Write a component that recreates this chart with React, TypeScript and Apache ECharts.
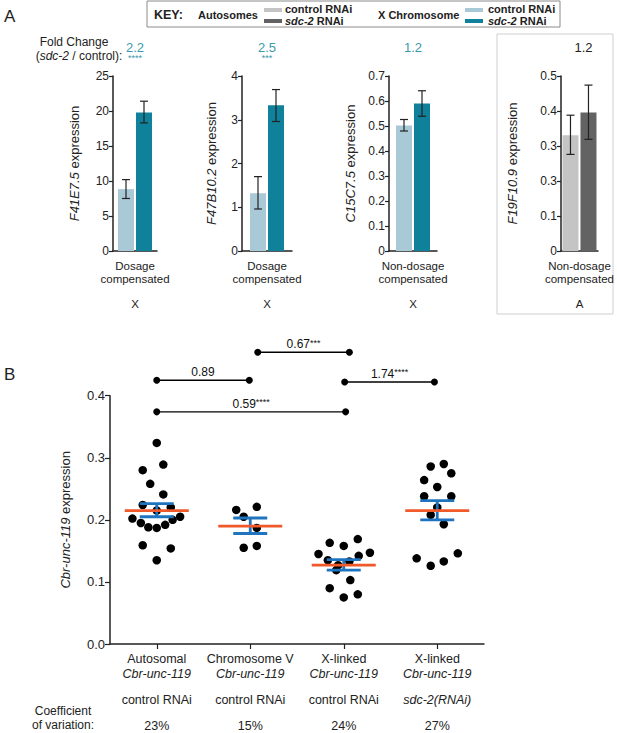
import React, { useEffect, useRef } from 'react';
import * as echarts from 'echarts';

// ---------- Panel A data ----------
const genes = ['F41E7.5', 'F47B10.2', 'C15C7.5', 'F19F10.9'];
const aCategories = [['Dosage', 'compensated'], ['Dosage', 'compensated'], ['Non-dosage', 'compensated'], ['Non-dosage', 'compensated']];
const chromosomes = ['X', 'X', 'X', 'A'];
const controlMeans = [8.84, 1.32, 0.502, 0.331];
const controlLow = [7.5, 0.96, 0.48, 0.276];
const controlHigh = [10.2, 1.7, 0.526, 0.388];
const sdc2Means = [19.77, 3.33, 0.59, 0.396];
const sdc2Low = [18.3, 2.96, 0.539, 0.319];
const sdc2High = [21.4, 3.69, 0.641, 0.474];
const foldChanges = ['2.2', '2.5', '1.2', '1.2'];
const foldStars = ['****', '***', '', ''];
const aMax = [25, 4, 0.7, 0.5];
const aInterval = [5, 1, 0.1, 0.1];
const f19TickLabels = ['0', '0.1', '0.3', '0.3', '0.4', '0.5'];

// ---------- Panel B data ----------
const bCategories = ['Autosomal', 'Chromosome V', 'X-linked', 'X-linked'];
const bTreatments = ['control RNAi', 'control RNAi', 'control RNAi', 'sdc-2(RNAi)'];
const bCV = ['23%', '15%', '24%', '27%'];
const autosomalValues = [0.324, 0.289, 0.28, 0.258, 0.241, 0.224, 0.215, 0.22, 0.202, 0.195, 0.188, 0.187, 0.192, 0.2, 0.205, 0.159, 0.154, 0.135];
const autosomalJitter = [0, 0.07, -0.15, -0.07, 0.07, -0.15, 0, 0.15, -0.26, -0.17, -0.09, 0, 0.09, 0.17, 0.25, -0.15, 0.15, 0];
const chrVValues = [0.216, 0.221, 0.205, 0.187, 0.155, 0.158];
const chrVJitter = [-0.15, 0.07, -0.07, 0.07, -0.07, 0.07];
const xControlValues = [0.163, 0.158, 0.169, 0.145, 0.147, 0.135, 0.142, 0.133, 0.119, 0.103, 0.09, 0.075, 0.08, 0.127];
const xControlJitter = [-0.15, 0, 0.15, -0.27, 0.28, -0.17, 0.16, 0.06, -0.08, 0.07, -0.15, 0, 0.15, -0.06];
const xSdc2Values = [0.286, 0.29, 0.275, 0.264, 0.253, 0.238, 0.238, 0.22, 0.208, 0.193, 0.138, 0.126, 0.133, 0.146];
const xSdc2Jitter = [-0.07, 0.07, 0.15, -0.14, 0, -0.14, 0.15, 0, -0.07, 0.07, -0.22, -0.07, 0.07, 0.22];
const bMeans = [0.215, 0.19, 0.127, 0.215];
const bSemLow = [0.205, 0.178, 0.119, 0.2];
const bSemHigh = [0.226, 0.203, 0.136, 0.231];
const compLabels = ['0.89', '0.67', '1.74', '0.59'];
const compStars = ['', '***', '****', '****'];
const compFrom = [0.5, 1.58, 2.51, 0.5];
const compTo = [1.49, 2.56, 3.47, 2.52];
const compY = [0.425, 0.47, 0.422, 0.374];

const FONT = '"Liberation Sans", Arial, Helvetica, sans-serif';
const INK = '#222';
const TEAL = '#10819a';
const LIGHTBLUE = '#a9c9d6';
const LIGHTGRAY = '#c4c4c4';
const DARKGRAY = '#636363';
const FOLD_TEAL = '#3a99ab';

const aLeft = [113, 242, 389, 561];
const aWidth = [44, 50, 48, 45];
const aTop = 76;
const aHeight = 175;
const aNameGap = [32, 24, 32, 42];

function buildOption(): any {
  const grid: any[] = [];
  const xAxis: any[] = [];
  const yAxis: any[] = [];
  const series: any[] = [];
  const graphic: any[] = [];

  for (let i = 0; i < 4; i++) {
    const isAuto = chromosomes[i] === 'A';
    grid.push({ left: aLeft[i], top: aTop, width: aWidth[i], height: aHeight });
    xAxis.push({
      type: 'category', gridIndex: i, data: [aCategories[i].join(' ')],
      axisTick: { show: false },
      axisLine: { lineStyle: { color: INK, width: 1.5 } },
      axisLabel: {
        interval: 0, margin: 8,
        formatter: () => [`{n|${aCategories[i][0]}}`, `{n|${aCategories[i][1]}}`, '{g| }', `{n|${chromosomes[i]}}`].join('\n'),
        rich: {
          n: { fontFamily: FONT, fontSize: 11.5, lineHeight: 13.5, color: INK },
          g: { fontFamily: FONT, fontSize: 8, lineHeight: 11, color: INK },
        },
      },
    });
    yAxis.push({
      type: 'value', gridIndex: i, min: 0, max: aMax[i], interval: aInterval[i],
      name: `{i|${genes[i]}}{n| expression}`, nameLocation: 'middle', nameGap: aNameGap[i], nameRotate: 90,
      nameTextStyle: {
        rich: {
          i: { fontFamily: FONT, fontSize: 13, fontStyle: 'italic', color: INK },
          n: { fontFamily: FONT, fontSize: 13, color: INK },
        },
      },
      axisLine: { show: true, lineStyle: { color: INK, width: 1.5 } },
      axisTick: { show: true, length: 4, lineStyle: { color: INK, width: 1.2 } },
      splitLine: { show: false },
      axisLabel: {
        fontFamily: FONT, fontSize: 12, color: INK, margin: 4,
        formatter: i === 3 ? (v: number) => f19TickLabels[Math.round(v * 10)] : undefined,
      },
    });
    series.push({
      type: 'bar', xAxisIndex: i, yAxisIndex: i, data: [controlMeans[i]], barWidth: 16, barGap: '12.5%',
      itemStyle: { color: isAuto ? LIGHTGRAY : LIGHTBLUE },
    });
    series.push({
      type: 'bar', xAxisIndex: i, yAxisIndex: i, data: [sdc2Means[i]], barWidth: 16,
      itemStyle: { color: isAuto ? DARKGRAY : TEAL },
    });
    series.push({
      type: 'custom', xAxisIndex: i, yAxisIndex: i, z: 5,
      encode: { x: 0, y: [1, 2] },
      data: [[0, controlLow[i], controlHigh[i], 0], [0, sdc2Low[i], sdc2High[i], 1]],
      renderItem: (params: any, api: any) => {
        const side = api.value(3);
        const lo = api.coord([0, api.value(1)]);
        const hi = api.coord([0, api.value(2)]);
        const x = lo[0] + (side ? 9 : -9);
        const st = { stroke: INK, lineWidth: 1.2 };
        return {
          type: 'group', children: [
            { type: 'line', shape: { x1: x, y1: lo[1], x2: x, y2: hi[1] }, style: st },
            { type: 'line', shape: { x1: x - 4, y1: lo[1], x2: x + 4, y2: lo[1] }, style: st },
            { type: 'line', shape: { x1: x - 4, y1: hi[1], x2: x + 4, y2: hi[1] }, style: st },
          ],
        };
      },
    });
    const cx = aLeft[i] + aWidth[i] / 2;
    graphic.push({
      type: 'text', x: cx, y: 47,
      style: { text: foldChanges[i], fill: isAuto ? INK : FOLD_TEAL, fontFamily: FONT, fontSize: 13, textAlign: 'center', textVerticalAlign: 'middle' },
    });
    if (foldStars[i]) {
      graphic.push({
        type: 'text', x: cx, y: 58,
        style: { text: foldStars[i], fill: FOLD_TEAL, fontFamily: FONT, fontSize: 9, textAlign: 'center', textVerticalAlign: 'middle' },
      });
    }
  }

  // Panel B
  const B = 4;
  grid.push({ left: 110, top: 395.7, width: 374, height: 248.3 });
  xAxis.push({
    type: 'category', gridIndex: B, data: bCategories,
    axisLine: { lineStyle: { color: INK, width: 1.5 } },
    axisTick: { show: true, alignWithLabel: true, length: 5, lineStyle: { color: INK, width: 1.2 } },
    axisLabel: {
      interval: 0, margin: 8,
      formatter: (v: string, idx: number) => [
        `{n|${bCategories[idx]}}`, '{i|Cbr-unc-119}', '{g| }',
        idx === 3 ? `{i|${bTreatments[idx]}}` : `{n|${bTreatments[idx]}}`, '{g| }', `{n|${bCV[idx]}}`,
      ].join('\n'),
      rich: {
        n: { fontFamily: FONT, fontSize: 12.5, lineHeight: 14.5, color: INK },
        i: { fontFamily: FONT, fontSize: 12.5, lineHeight: 14.5, color: INK, fontStyle: 'italic' },
        g: { fontFamily: FONT, fontSize: 8, lineHeight: 11.5, color: INK },
      },
    },
  });
  xAxis.push({ type: 'value', gridIndex: B, min: 0, max: 4, show: false });
  yAxis.push({
    type: 'value', gridIndex: B, min: 0, max: 0.4, interval: 0.1,
    name: '{i|Cbr-unc-119}{n| expression}', nameLocation: 'middle', nameGap: 38, nameRotate: 90,
    nameTextStyle: {
      rich: {
        i: { fontFamily: FONT, fontSize: 13, fontStyle: 'italic', color: INK },
        n: { fontFamily: FONT, fontSize: 13, color: INK },
      },
    },
    axisLine: { show: true, lineStyle: { color: INK, width: 1.5 } },
    axisTick: { show: true, length: 5, lineStyle: { color: INK, width: 1.2 } },
    splitLine: { show: false },
    axisLabel: { fontFamily: FONT, fontSize: 13, color: INK, margin: 5, formatter: (v: number) => v.toFixed(1) },
  });
  const groups = [
    [autosomalValues, autosomalJitter],
    [chrVValues, chrVJitter],
    [xControlValues, xControlJitter],
    [xSdc2Values, xSdc2Jitter],
  ];
  groups.forEach(([vals, jit], g) => {
    series.push({
      type: 'scatter', xAxisIndex: 5, yAxisIndex: B, symbolSize: 8.5, z: 2, clip: false,
      itemStyle: { color: '#000', opacity: 1 },
      data: vals.map((v, k) => [g + 0.5 + jit[k], v]),
    });
  });
  series.push({
    type: 'custom', xAxisIndex: 5, yAxisIndex: B, z: 6, clip: false,
    encode: { x: 0, y: [1, 2, 3] },
    data: bMeans.map((m, g) => [g + 0.5, m, bSemLow[g], bSemHigh[g]]),
    renderItem: (params: any, api: any) => {
      const c = api.coord([api.value(0), api.value(1)]);
      const lo = api.coord([api.value(0), api.value(2)]);
      const hi = api.coord([api.value(0), api.value(3)]);
      const blue = { stroke: '#1f74c0', lineWidth: 2.8 };
      const orange = { stroke: '#f0592a', lineWidth: 2.8 };
      return {
        type: 'group', children: [
          { type: 'line', shape: { x1: c[0], y1: lo[1], x2: c[0], y2: hi[1] }, style: blue },
          { type: 'line', shape: { x1: c[0] - 17, y1: lo[1], x2: c[0] + 17, y2: lo[1] }, style: blue },
          { type: 'line', shape: { x1: c[0] - 17, y1: hi[1], x2: c[0] + 17, y2: hi[1] }, style: blue },
          { type: 'line', shape: { x1: c[0] - 32, y1: c[1], x2: c[0] + 32, y2: c[1] }, style: orange },
        ],
      };
    },
  });
  compLabels.forEach((lab, k) => {
    series.push({
      type: 'line', xAxisIndex: 5, yAxisIndex: B, clip: false, z: 4,
      symbol: 'circle', symbolSize: 7, showSymbol: true,
      lineStyle: { color: '#000', width: 1.4 },
      itemStyle: { color: '#000', opacity: 1 },
      data: [[compFrom[k], compY[k]], [compTo[k], compY[k]]],
    });
    series.push({
      type: 'scatter', xAxisIndex: 5, yAxisIndex: B, clip: false, z: 4, symbolSize: 0.1,
      itemStyle: { color: 'rgba(0,0,0,0)', opacity: 1 },
      data: [[(compFrom[k] + compTo[k]) / 2, compY[k]]],
      label: {
        show: true, position: 'top', distance: 2, opacity: 1, color: '#111',
        formatter: () => (compStars[k] ? `{n|${lab}}{s|${compStars[k]}}` : `{n|${lab}}`),
        rich: {
          n: { fontFamily: FONT, fontSize: 12, color: '#111' },
          s: { fontFamily: FONT, fontSize: 9, color: '#111', verticalAlign: 'top' },
        },
      },
    });
  });

  // Graphic texts
  const t = (text: string, x: number, y: number, extra: any = {}) => ({
    type: 'text', x, y,
    style: { text, fill: INK, fontFamily: FONT, fontSize: 12, textVerticalAlign: 'middle', ...extra },
  });
  graphic.push(t('A', 4, 16, { fontSize: 17 }));
  graphic.push(t('B', 4, 374, { fontSize: 17 }));
  graphic.push({ type: 'rect', shape: { x: 147, y: 1, width: 413, height: 26 }, style: { fill: 'none', stroke: '#8a8a8a', lineWidth: 1 } });
  graphic.push({ type: 'rect', shape: { x: 497, y: 34, width: 116, height: 280 }, style: { fill: 'none', stroke: '#cfcfcf', lineWidth: 1 } });
  graphic.push(t('KEY:', 154, 14.5, { fontSize: 12.5, fontWeight: 'bold' }));
  graphic.push(t('Autosomes', 198, 14.5, { fontSize: 11, fontWeight: 'bold' }));
  graphic.push({ type: 'rect', shape: { x: 264, y: 8, width: 18, height: 4 }, style: { fill: LIGHTGRAY } });
  graphic.push({ type: 'rect', shape: { x: 264, y: 19, width: 18, height: 4 }, style: { fill: DARKGRAY } });
  graphic.push(t('control RNAi', 285, 8.5, { fontSize: 11, fontWeight: 'bold' }));
  graphic.push({
    type: 'text', x: 285, y: 21,
    style: {
      text: '{i|sdc-2}{n| RNAi}', textVerticalAlign: 'middle',
      rich: {
        i: { fontFamily: FONT, fontSize: 11, fontWeight: 'bold', fontStyle: 'italic', fill: INK },
        n: { fontFamily: FONT, fontSize: 11, fontWeight: 'bold', fill: INK },
      },
    },
  });
  graphic.push(t('X Chromosome', 378, 14.5, { fontSize: 11, fontWeight: 'bold' }));
  graphic.push({ type: 'rect', shape: { x: 465, y: 8, width: 18, height: 4 }, style: { fill: LIGHTBLUE } });
  graphic.push({ type: 'rect', shape: { x: 465, y: 19, width: 18, height: 4 }, style: { fill: TEAL } });
  graphic.push(t('control RNAi', 488, 8.5, { fontSize: 11, fontWeight: 'bold' }));
  graphic.push({
    type: 'text', x: 488, y: 21,
    style: {
      text: '{i|sdc-2}{n| RNAi}', textVerticalAlign: 'middle',
      rich: {
        i: { fontFamily: FONT, fontSize: 11, fontWeight: 'bold', fontStyle: 'italic', fill: INK },
        n: { fontFamily: FONT, fontSize: 11, fontWeight: 'bold', fill: INK },
      },
    },
  });
  graphic.push(t('Fold Change', 74, 42, { textAlign: 'center' }));
  graphic.push({
    type: 'text', x: 79, y: 56,
    style: {
      text: '{n|(}{i|sdc-2}{n| / control):}', textAlign: 'center', textVerticalAlign: 'middle',
      rich: {
        i: { fontFamily: FONT, fontSize: 12, fontStyle: 'italic', fill: INK },
        n: { fontFamily: FONT, fontSize: 12, fill: INK },
      },
    },
  });
  graphic.push(t('Coefficient', 63, 711, { textAlign: 'center', fontSize: 12 }));
  graphic.push(t('of variation:', 63, 725.3, { textAlign: 'center', fontSize: 12 }));

  return {
    animation: false,
    backgroundColor: '#fff',
    textStyle: { fontFamily: FONT },
    grid, xAxis, yAxis, series, graphic,
  };
}

export default function App() {
  const ref = useRef<HTMLDivElement>(null);
  useEffect(() => {
    document.body.style.margin = '0';
    const chart = echarts.init(ref.current!, null, { renderer: 'svg' });
    chart.setOption(buildOption());
    return () => chart.dispose();
  }, []);
  return <div ref={ref} style={{ width: 617, height: 733 }} />;
}
